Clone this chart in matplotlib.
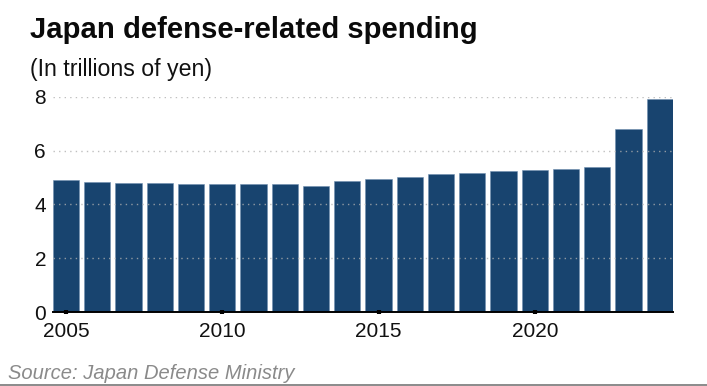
import matplotlib
matplotlib.use("Agg")
import matplotlib.pyplot as plt
from matplotlib.lines import Line2D

years = list(range(2005, 2025))
spending = [4.89, 4.84, 4.79, 4.78, 4.75, 4.74, 4.76, 4.75, 4.69, 4.85,
            4.95, 5.03, 5.11, 5.16, 5.25, 5.28, 5.32, 5.37, 6.80, 7.93]
yticks = [0, 2, 4, 6, 8]
xticks = [2005, 2010, 2015, 2020]

plt.rcParams['font.family'] = ['Liberation Sans', 'DejaVu Sans']

W, H = 707, 386
fig = plt.figure(figsize=(W / 100, H / 100), dpi=100)
left, right, bottom, top = 53, 673, 312, 96.7
ax = fig.add_axes([left / W, 1 - bottom / H, (right - left) / W, (bottom - top) / H])

ax.bar(years, spending, width=0.84, color='#18446f', edgecolor='#6f8fb0', linewidth=0.4, zorder=2)
ax.set_xlim(years[0] - 0.42, years[-1] + 0.42)
ax.set_ylim(0, 8)
ax.set_yticks(yticks)
ax.set_xticks(xticks)
ax.set_xticklabels([str(x) for x in xticks])

ax.yaxis.grid(True, linestyle=(0, (1, 3)), color='#b0b0b0', linewidth=1.0, alpha=0.8, zorder=3)
ax.set_axisbelow(False)
for s in ['top', 'right', 'left']:
    ax.spines[s].set_visible(False)
ax.spines['bottom'].set_color('black')
ax.spines['bottom'].set_linewidth(1.4)
ax.spines['bottom'].set_zorder(4)

ax.tick_params(axis='y', length=0, pad=5, labelsize=15, labelcolor='#111111')
ax.tick_params(axis='x', direction='inout', length=3, width=3, pad=6, labelsize=15,
               labelcolor='#111111', color='black')

fig.text(30 / W, 1 - 37.5 / H, 'Japan defense-related spending', fontsize=21.1,
         fontweight='bold', color='#0a0a0a', va='baseline', ha='left')
fig.text(30 / W, 1 - 76 / H, '(In trillions of yen)', fontsize=16.7,
         color='#111111', va='baseline', ha='left')
fig.text(8 / W, 1 - 379 / H, 'Source: Japan Defense Ministry', fontsize=14.5,
         style='italic', color='#8a8a8a', va='baseline', ha='left')
fig.add_artist(Line2D([0, 1], [1 - 384.5 / H, 1 - 384.5 / H], transform=fig.transFigure,
                      color='#777777', linewidth=1.2))

fig.savefig('out.png', dpi=100)
